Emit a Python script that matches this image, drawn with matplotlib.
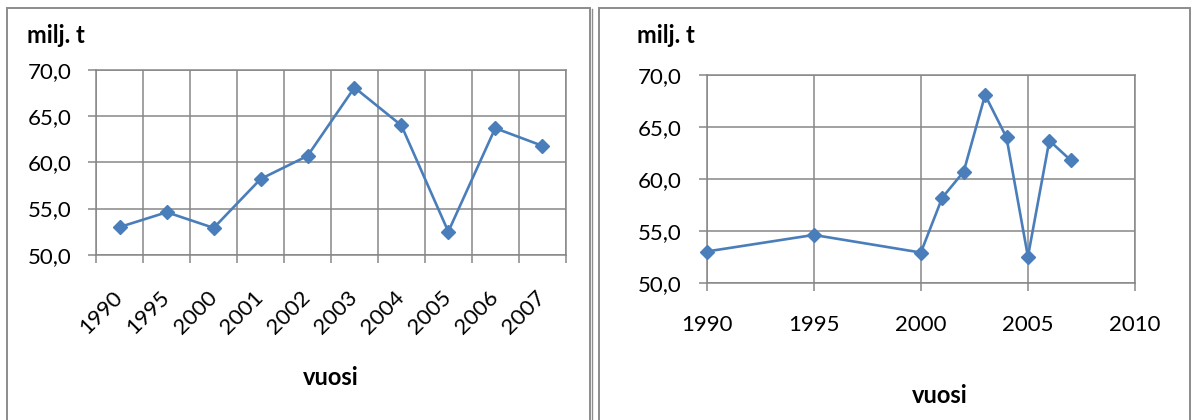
import matplotlib
matplotlib.use("Agg")
import matplotlib.pyplot as plt
from matplotlib.patches import Rectangle
from matplotlib.lines import Line2D
from matplotlib.ticker import FuncFormatter, FixedLocator

# Annual tonnage (million tonnes)
years = [1990, 1995, 2000, 2001, 2002, 2003, 2004, 2005, 2006, 2007]
values = [53.0, 54.6, 52.9, 58.2, 60.7, 68.1, 64.0, 52.5, 63.7, 61.8]
year_labels = [str(y) for y in years]
y_ticks = [50, 55, 60, 65, 70]
x_ticks_right = [1990, 1995, 2000, 2005, 2010]

W, H = 1192, 420
LINE = "#4A7EBB"
GRID = "#878787"
FONT = "Lato"
TICK_SIZE = 16

plt.rcParams["font.family"] = [FONT, "DejaVu Sans"]

fig = plt.figure(figsize=(W / 100, H / 100), dpi=100)


def fx(px):
    return px / W


def fy(py):
    return 1 - py / H


def comma_fmt(v, _):
    return f"{v:.1f}".replace(".", ",")


def style_axes(ax):
    for s in ax.spines.values():
        s.set_color(GRID)
        s.set_linewidth(1.1)
    ax.set_ylim(50, 70)
    ax.yaxis.set_major_locator(FixedLocator(y_ticks))
    ax.yaxis.set_major_formatter(FuncFormatter(comma_fmt))
    ax.grid(True, color=GRID, linewidth=1.1)
    ax.set_axisbelow(True)
    ax.tick_params(axis="y", length=6, width=1.1, color=GRID,
                   labelsize=TICK_SIZE, pad=12.0)


line_kw = dict(color=LINE, linewidth=1.9, marker="D", markersize=6.8,
               markerfacecolor=LINE, markeredgecolor=LINE, zorder=3,
               clip_on=False)

# Left chart: categorical year axis
ax1 = fig.add_axes([fx(96.4), fy(254.7), fx(565.6 - 96.4), (254.7 - 70) / H])
pos = list(range(len(years)))
ax1.plot(pos, values, **line_kw)
ax1.set_xlim(-0.5, len(years) - 0.5)
style_axes(ax1)
ax1.set_xticks(pos)
ax1.set_xticklabels(year_labels, rotation=45, ha="right", va="center",
                    rotation_mode="anchor")
ax1.set_xticks([p - 0.5 for p in range(len(years) + 1)], minor=True)
ax1.tick_params(axis="x", which="major", length=0, labelsize=TICK_SIZE, pad=28.5)
ax1.tick_params(axis="x", which="minor", length=6, width=1.1, color=GRID)
ax1.xaxis.grid(False, which="major")
ax1.xaxis.grid(True, which="minor", color=GRID, linewidth=1.1)

# Right chart: numeric year axis
ax2 = fig.add_axes([fx(706.7), fy(282.6), fx(1135 - 706.7), (282.6 - 75.3) / H])
ax2.plot(years, values, **line_kw)
ax2.set_xlim(1990, 2010)
style_axes(ax2)
ax2.set_xticks(x_ticks_right)
ax2.tick_params(axis="x", length=6, width=1.1, color=GRID,
                labelsize=TICK_SIZE, pad=17)

# Axis titles
title_kw = dict(fontsize=17, fontweight="bold", color="black")
fig.text(fx(26.7), fy(43.3), "milj. t", ha="left", va="baseline", **title_kw)
fig.text(fx(637), fy(43.3), "milj. t", ha="left", va="baseline", **title_kw)
fig.text(fx(331), fy(385), "vuosi", ha="center", va="baseline", **title_kw)
fig.text(fx(940), fy(403), "vuosi", ha="center", va="baseline", **title_kw)

# Chart frames
frame_kw = dict(fill=False, edgecolor="#8C8C8C", linewidth=1.4,
                transform=fig.transFigure, figure=fig)
fig.patches.append(Rectangle((fx(7), fy(430)), fx(589.5 - 7), (430 - 8.5) / H, **frame_kw))
fig.patches.append(Rectangle((fx(598.5), fy(430)), fx(1189.5 - 598.5), (430 - 8.5) / H, **frame_kw))
fig.lines.append(Line2D([fx(592), fx(592)], [fy(8.5), fy(430)], color="#8C8C8C",
                        linewidth=1.0, transform=fig.transFigure))

fig.savefig("out.png", dpi=100)
